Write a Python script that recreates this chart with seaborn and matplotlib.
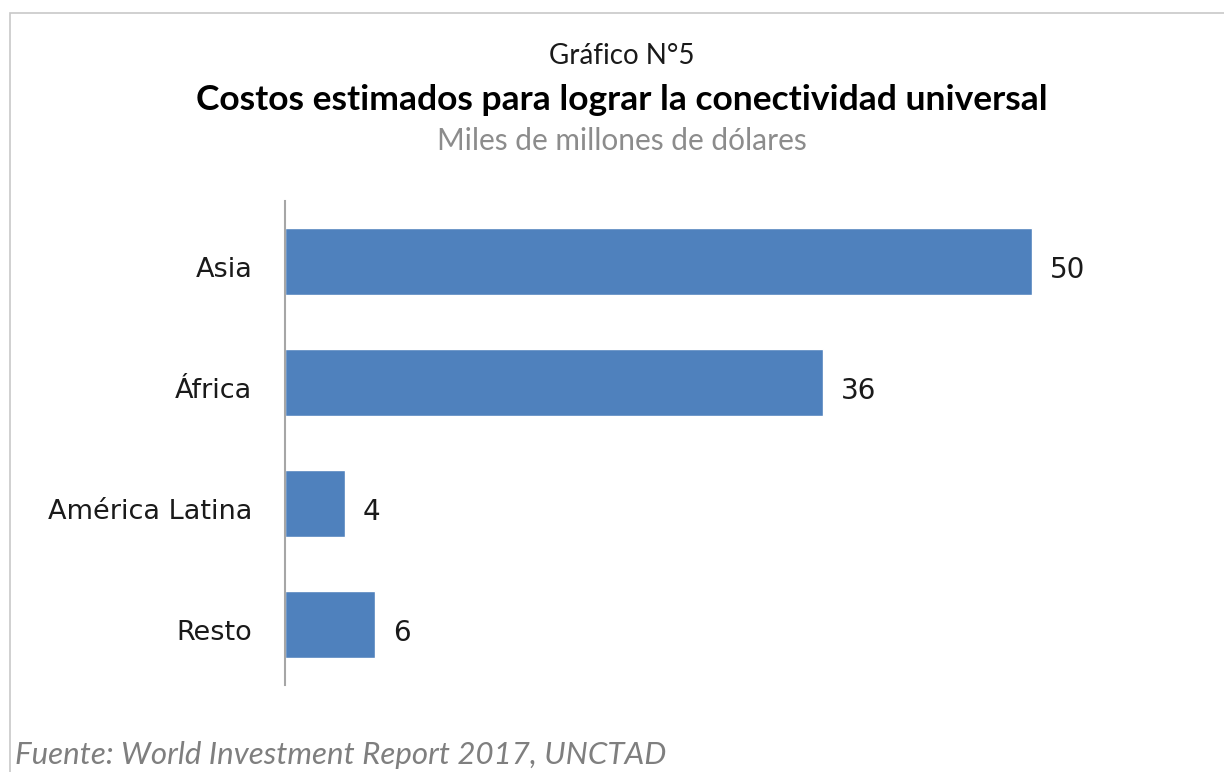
import matplotlib
matplotlib.use("Agg")
import matplotlib.pyplot as plt
from matplotlib.patches import Rectangle
from matplotlib.transforms import ScaledTranslation
import seaborn as sns
import pandas as pd

regions = ["Asia", "África", "América Latina", "Resto"]
costs = [50, 36, 4, 6]

title_top = "Gráfico N°5"
title_main = "Costos estimados para lograr la conectividad universal"
subtitle = "Miles de millones de dólares"
source = "Fuente: World Investment Report 2017, UNCTAD"

sns.set_theme(style="white")
plt.rcParams["font.family"] = ["DejaVu Sans"]

W, H = 1224, 772
fig = plt.figure(figsize=(W / 100, H / 100), dpi=100)
fig.patch.set_facecolor("white")

# outer frame, open on the right and bottom
fig.patches.append(Rectangle((10 / W, -0.1), 1.2, 1 - 13 / H + 0.1,
                             transform=fig.transFigure, fill=False,
                             edgecolor="#C8C8C8", linewidth=1.2))

ax_left, ax_bottom = 285 / W, 87 / H
ax_w, ax_h = 896 / W, 484 / H
ax = fig.add_axes([ax_left, ax_bottom, ax_w, ax_h])

df = pd.DataFrame({"region": regions, "cost": costs})
sns.barplot(data=df, y="region", x="cost", orient="h", color="#4F81BD",
            saturation=1, width=0.56, ax=ax)

ax.set_xlim(0, 60)
ax.set_ylim(3.5, -0.5)
ax.set_xlabel("")
ax.set_ylabel("")
ax.set_xticks([])
for s in ["top", "right", "bottom"]:
    ax.spines[s].set_visible(False)
ax.spines["left"].set_color("#A6A6A6")
ax.spines["left"].set_linewidth(1.5)
ax.tick_params(axis="y", length=0, pad=23.5, labelsize=19.5, labelcolor="#1a1a1a")

# nudge category labels slightly below the bar centres
shift = ScaledTranslation(0, -4 / 72, fig.dpi_scale_trans)
for lbl in ax.get_yticklabels():
    lbl.set_transform(lbl.get_transform() + shift)

for i, v in enumerate(costs):
    ax.annotate(f"{v}", (v, i), xytext=(13, -6), textcoords="offset points",
                ha="left", va="center", fontsize=20, color="#1a1a1a")

cx = 622 / W
fig.text(cx, 1 - 56 / H, title_top, ha="center", va="center",
         fontsize=20, color="#1a1a1a", family="Lato")
fig.text(cx, 1 - 100 / H, title_main, ha="center", va="center",
         fontsize=25.5, fontweight="bold", color="#000000", family="Lato")
fig.text(cx, 1 - 141 / H, subtitle, ha="center", va="center",
         fontsize=21.5, color="#8C8C8C", family="Lato")
fig.text(15 / W, 1 - 755 / H, source, ha="left", va="center",
         fontsize=22.5, style="italic", color="#7F7F7F", family="Lato")

fig.savefig("out.png", dpi=100, facecolor="white")
